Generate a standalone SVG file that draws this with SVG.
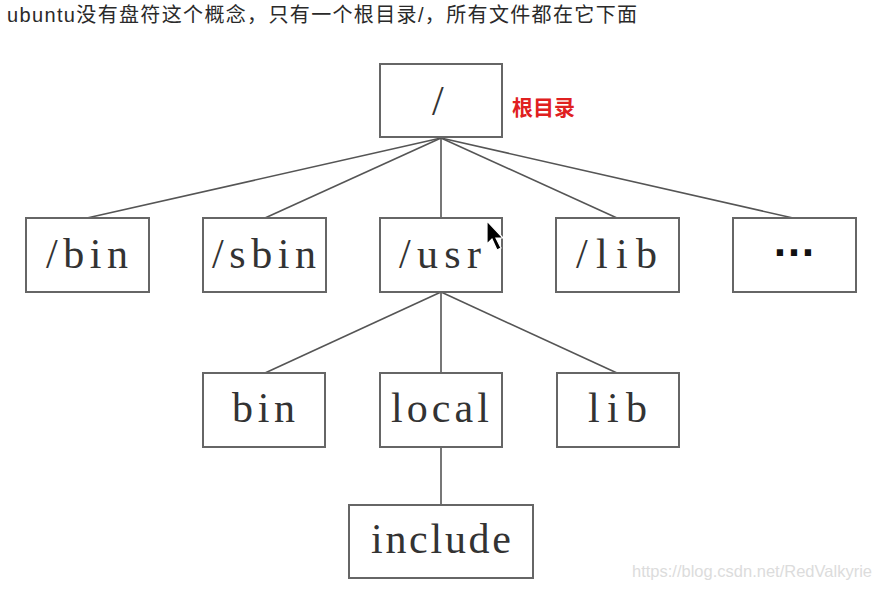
<svg xmlns="http://www.w3.org/2000/svg" width="881" height="590" viewBox="0 0 881 590">
<style>
.box{fill:#fff;stroke:#666;stroke-width:2}
.lbl{font-family:"Liberation Serif",serif;font-size:42px;fill:#333}
.con line{stroke:#555;stroke-width:1.6}
</style>
<rect width="881" height="590" fill="#fff"/>
<text x="7" y="22" textLength="630" lengthAdjust="spacing" font-family="Liberation Sans,'Noto Sans CJK SC',sans-serif" font-size="20" fill="#2a2a2a">ubuntu没有盘符这个概念，只有一个根目录/，所有文件都在它下面</text>
<g id="connectors" class="con">
<line x1="441" y1="138" x2="87" y2="218"/>
<line x1="441" y1="138" x2="265" y2="218"/>
<line x1="441" y1="138" x2="441" y2="218"/>
<line x1="441" y1="138" x2="617" y2="218"/>
<line x1="441" y1="138" x2="793" y2="218"/>
<line x1="441" y1="292" x2="265" y2="373"/>
<line x1="441" y1="292" x2="441" y2="373"/>
<line x1="441" y1="292" x2="617" y2="373"/>
<line x1="441" y1="447" x2="441" y2="505"/>
</g>
<g id="root"><rect class="box" x="380" y="64" width="122" height="73"/><text class="lbl" x="432" y="115" font-size="50" fill="#555">/</text></g>
<text x="512" y="115" font-family="Liberation Sans,'Noto Sans CJK SC',sans-serif" font-size="21" font-weight="bold" fill="#e02020">根目录</text>
<g id="bin"><rect class="box" x="26" y="218" width="123" height="74"/><text class="lbl" x="46" y="268" textLength="82" lengthAdjust="spacing">/bin</text></g>
<g id="sbin"><rect class="box" x="203" y="218" width="123" height="74"/><text class="lbl" x="212" y="268" textLength="104" lengthAdjust="spacing">/sbin</text></g>
<g id="usr"><rect class="box" x="380" y="218" width="122" height="74"/><text class="lbl" x="399" y="268" textLength="82" lengthAdjust="spacing">/usr</text></g>
<g id="lib"><rect class="box" x="556" y="218" width="123" height="74"/><text class="lbl" x="576" y="268" textLength="81" lengthAdjust="spacing">/lib</text></g>
<g id="more"><rect class="box" x="733" y="218" width="123" height="74"/><text x="794" y="256" font-family="Liberation Sans,sans-serif" font-size="44" font-weight="bold" fill="#111" text-anchor="middle">…</text></g>
<g id="usr-bin"><rect class="box" x="203" y="373" width="122" height="74"/><text class="lbl" x="232" y="422" textLength="63" lengthAdjust="spacing">bin</text></g>
<g id="usr-local"><rect class="box" x="380" y="373" width="122" height="74"/><text class="lbl" x="391" y="422" textLength="98" lengthAdjust="spacing">local</text></g>
<g id="usr-lib"><rect class="box" x="557" y="373" width="122" height="74"/><text class="lbl" x="588" y="422" textLength="59" lengthAdjust="spacing">lib</text></g>
<g id="include"><rect class="box" x="349" y="505" width="184" height="73"/><text class="lbl" x="371" y="553" textLength="140" lengthAdjust="spacing">include</text></g>
<path d="M487 221 L487 244 L492 239 L497 250 L501 248 L496 238 L503 238 Z" fill="#000" stroke="#fff" stroke-width="1.2"/>
<text x="872" y="577" font-family="Liberation Sans,sans-serif" font-size="16.5" fill="#dcdcdc" text-anchor="end">https://blog.csdn.net/RedValkyrie</text>
</svg>
